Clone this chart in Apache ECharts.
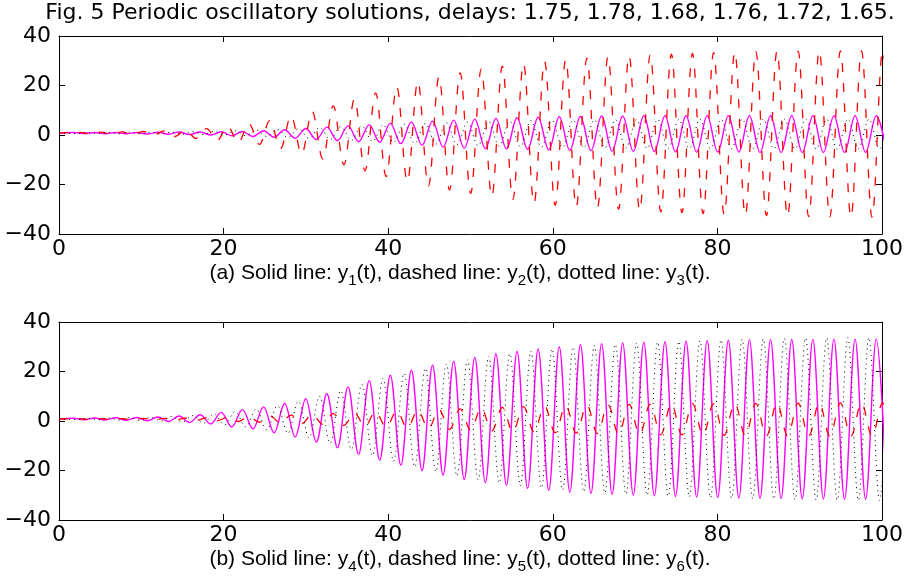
<!DOCTYPE html>
<html><head><meta charset="utf-8">
<script src="https://cdn.jsdelivr.net/npm/echarts@6/dist/echarts.min.js"></script>
<style>html,body{margin:0;padding:0;background:#fff}#c{width:909px;height:581px}</style>
</head><body><div id="c"></div>
<script>
// ---- tick labels ----
const xTicks = [0, 20, 40, 60, 80, 100];
const yTicks = [-40, -20, 0, 20, 40];

// ---- extremum times ----
const tMag = [0,
 1.75, 3.03, 4.32, 5.60, 6.88, 8.17, 9.45, 10.73, 12.02, 13.30,
 14.59, 15.87, 17.15, 18.44, 19.72, 21.00, 22.29, 23.57, 24.85, 26.14,
 27.42, 28.70, 29.99, 31.27, 32.55, 33.84, 35.12, 36.40, 37.69, 38.97,
 40.26, 41.54, 42.82, 44.11, 45.39, 46.67, 47.96, 49.24, 50.52, 51.81,
 53.09, 54.37, 55.66, 56.94, 58.22, 59.51, 60.79, 62.07, 63.36, 64.64,
 65.93, 67.21, 68.49, 69.78, 71.06, 72.34, 73.63, 74.91, 76.19, 77.48,
 78.76, 80.04, 81.33, 82.61, 83.89, 85.18, 86.46, 87.74, 89.03, 90.31,
 91.60, 92.88, 94.16, 95.45, 96.73, 98.01, 99.30, 100.58];
const tRed = [0,
 2.53, 3.81, 5.10, 6.38, 7.66, 8.95, 10.23, 11.51, 12.80, 14.08,
 15.37, 16.65, 17.93, 19.22, 20.50, 21.78, 23.07, 24.35, 25.63, 26.92,
 28.20, 29.48, 30.77, 32.05, 33.33, 34.62, 35.90, 37.18, 38.47, 39.75,
 41.04, 42.32, 43.60, 44.89, 46.17, 47.45, 48.74, 50.02, 51.30, 52.59,
 53.87, 55.15, 56.44, 57.72, 59.00, 60.29, 61.57, 62.85, 64.14, 65.42,
 66.71, 67.99, 69.27, 70.56, 71.84, 73.12, 74.41, 75.69, 76.97, 78.26,
 79.54, 80.82, 82.11, 83.39, 84.67, 85.96, 87.24, 88.52, 89.81, 91.09,
 92.38, 93.66, 94.94, 96.23, 97.51, 98.79, 100.08, 101.36];
const tDot = [0,
 2.15, 3.43, 4.72, 6.00, 7.28, 8.57, 9.85, 11.13, 12.42, 13.70,
 14.99, 16.27, 17.55, 18.84, 20.12, 21.40, 22.69, 23.97, 25.25, 26.54,
 27.82, 29.10, 30.39, 31.67, 32.95, 34.24, 35.52, 36.80, 38.09, 39.37,
 40.66, 41.94, 43.22, 44.51, 45.79, 47.07, 48.36, 49.64, 50.92, 52.21,
 53.49, 54.77, 56.06, 57.34, 58.62, 59.91, 61.19, 62.47, 63.76, 65.04,
 66.33, 67.61, 68.89, 70.18, 71.46, 72.74, 74.03, 75.31, 76.59, 77.88,
 79.16, 80.44, 81.73, 83.01, 84.29, 85.58, 86.86, 88.14, 89.43, 90.71,
 92.00, 93.28, 94.56, 95.85, 97.13, 98.41, 99.70, 100.98];

// ---- panel (a) values ----
const y1 = [0.8,
 1.0, 0.6, 1.0, 0.5, 1.0, 0.5, 1.0, 0.4, 1.1, 0.3,
 1.2, 0.2, 1.2, 0.0, 1.3, -0.3, 1.4, -0.6, 1.7, -0.9,
 2.1, -1.3, 2.6, -1.8, 3.2, -2.3, 3.7, -2.7, 4.1, -2.9,
 4.7, -3.5, 5.3, -4.2, 5.6, -4.9, 6.0, -5.3, 6.4, -5.5,
 6.7, -5.6, 7.0, -5.8, 7.2, -6.0, 7.4, -6.2, 7.5, -6.3,
 7.7, -6.5, 7.7, -6.6, 7.8, -6.7, 7.8, -6.8, 7.8, -6.9,
 7.8, -6.9, 7.8, -6.9, 7.8, -7.0, 7.8, -7.0, 7.8, -7.0,
 7.8, -7.0, 7.8, -7.0, 7.8, -7.0, 7.8, -7.0];
const y2 = [0.8,
 1.1, 0.5, 1.2, 0.4, 1.3, 0.2, 1.5, 0.0, 1.7, -0.6,
 2.0, -1.4, 2.6, -2.2, 3.5, -3.0, 4.6, -3.8, 5.9, -5.5,
 7.8, -7.6, 9.5, -9.7, 11.8, -12.0, 14.5, -14.5, 17.0, -16.8,
 19.5, -18.8, 21.6, -20.6, 23.5, -22.2, 25.1, -23.6, 26.6, -24.8,
 27.8, -26.0, 28.8, -27.5, 29.7, -28.4, 30.4, -29.0, 31.1, -29.5,
 31.6, -30.0, 32.0, -30.5, 32.4, -31.0, 32.7, -31.4, 33.0, -31.8,
 33.3, -32.1, 33.5, -32.4, 33.7, -32.6, 33.8, -32.8, 33.9, -33.0,
 34.0, -33.1, 34.0, -33.2, 34.0, -33.2, 34.0, -33.2];
const y3 = [0.8,
 0.6, 1.0, 0.6, 1.0, 0.5, 1.1, 0.5, 1.1, 0.4, 1.2,
 0.3, 1.3, 0.2, 1.5, 0.0, 1.7, -0.3, 2.0, -0.6, 2.3,
 -1.0, 2.6, -1.4, 3.0, -1.8, 3.4, -2.2, 3.7, -2.6, 4.1,
 -3.0, 4.4, -3.4, 4.7, -3.7, 5.0, -4.0, 5.2, -4.3, 5.4,
 -4.5, 5.6, -4.7, 5.8, -4.9, 5.9, -5.0, 6.0, -5.1, 6.1,
 -5.2, 6.2, -5.3, 6.2, -5.4, 6.3, -5.4, 6.3, -5.5, 6.4,
 -5.5, 6.4, -5.5, 6.4, -5.6, 6.4, -5.6, 6.4, -5.6, 6.4,
 -5.6, 6.4, -5.6, 6.4, -5.6, 6.4, -5.6, 6.4];

// ---- panel (b) values ----
const y4 = [0.8,
 1.1, 0.5, 1.2, 0.4, 1.3, 0.3, 1.4, 0.1, 1.6, -0.2,
 2.0, -0.6, 2.5, -1.2, 3.5, -2.4, 4.6, -3.2, 5.7, -4.8,
 7.1, -6.4, 9.0, -8.5, 11.0, -10.8, 13.8, -13.5, 16.3, -15.8,
 18.5, -17.9, 20.5, -20.0, 22.5, -21.8, 24.1, -23.6, 25.7, -24.9,
 27.1, -26.0, 28.1, -27.2, 29.1, -28.0, 29.9, -28.7, 30.8, -29.2,
 31.2, -29.6, 31.5, -29.9, 31.8, -30.2, 32.0, -30.5, 32.2, -30.7,
 32.4, -30.9, 32.6, -31.1, 32.7, -31.2, 32.8, -31.3, 32.9, -31.4,
 33.0, -31.5, 33.1, -31.6, 33.1, -31.6, 33.1, -31.6];
const y5 = [0.8,
 1.0, 0.6, 1.0, 0.6, 1.0, 0.5, 1.1, 0.5, 1.1, 0.4,
 1.2, 0.3, 1.3, 0.1, 1.5, -0.2, 1.8, -0.5, 2.1, -0.8,
 2.4, -1.1, 2.7, -1.4, 3.0, -1.8, 3.3, -2.1, 3.7, -2.5,
 4.0, -2.8, 4.3, -3.1, 4.6, -3.4, 4.9, -3.7, 5.2, -4.0,
 5.5, -4.3, 5.8, -4.5, 6.0, -4.7, 6.2, -4.9, 6.4, -5.1,
 6.6, -5.3, 6.7, -5.4, 6.8, -5.5, 6.9, -5.6, 7.0, -5.7,
 7.0, -5.8, 7.1, -5.9, 7.1, -6.0, 7.2, -6.0, 7.2, -6.1,
 7.2, -6.1, 7.3, -6.1, 7.3, -6.1, 7.3, -6.1];
const y6 = [0.8,
 0.6, 1.1, 0.5, 1.2, 0.4, 1.3, 0.2, 1.5, 0.0, 1.8,
 -0.4, 2.2, -0.9, 2.9, -1.6, 3.8, -2.4, 4.8, -3.6, 6.2,
 -5.0, 8.0, -6.8, 10.0, -9.0, 12.3, -11.5, 14.8, -14.0, 17.2,
 -16.3, 19.3, -18.5, 21.3, -20.5, 23.1, -22.2, 24.7, -23.7, 26.1,
 -25.0, 27.2, -26.1, 28.2, -27.1, 29.1, -27.9, 29.9, -28.6, 30.5,
 -29.1, 31.0, -29.6, 31.5, -30.0, 31.9, -30.4, 32.2, -30.7, 32.5,
 -31.0, 32.8, -31.2, 33.0, -31.4, 33.2, -31.6, 33.4, -31.8, 33.5,
 -31.9, 33.6, -32.0, 33.7, -32.1, 33.7, -32.1, 33.7];

const titleText = 'Fig. 5 Periodic oscillatory solutions, delays: 1.75, 1.78, 1.68, 1.76, 1.72, 1.65.';
const capA = '(a) Solid line: y{s|1}(t), dashed line: y{s|2}(t), dotted line: y{s|3}(t).';
const capB = '(b) Solid line: y{s|4}(t), dashed line: y{s|5}(t), dotted line: y{s|6}(t).';

function pts(t, y) {
  if (t.length !== y.length) throw new Error('length mismatch ' + t.length + ' vs ' + y.length);
  return t.map((v, i) => [v, y[i]]);
}
const minus = v => String(v).replace('-', '\u2212');

function mkX(g, pos, lab) {
  return {
    type: 'value', gridIndex: g, position: pos,
    min: xTicks[0], max: xTicks[xTicks.length - 1], interval: xTicks[1] - xTicks[0],
    axisLine: { show: true, onZero: false, lineStyle: { color: '#000', width: 1 } },
    axisTick: { show: true, inside: true, length: 6, lineStyle: { color: '#000', width: 1 } },
    axisLabel: { show: lab, color: '#000', fontFamily: 'DejaVu Sans', fontSize: 22, margin: 4,
      showMinLabel: true, showMaxLabel: true, formatter: minus },
    splitLine: { show: false }
  };
}
function mkY(g, pos, lab) {
  return {
    type: 'value', gridIndex: g, position: pos,
    min: yTicks[0], max: yTicks[yTicks.length - 1], interval: yTicks[1] - yTicks[0],
    axisLine: { show: true, onZero: false, lineStyle: { color: '#000', width: 1 } },
    axisTick: { show: true, inside: true, length: 6, lineStyle: { color: '#000', width: 1 } },
    axisLabel: { show: lab, color: '#000', fontFamily: 'DejaVu Sans', fontSize: 22, margin: 8,
      showMinLabel: true, showMaxLabel: true, formatter: minus },
    splitLine: { show: false }
  };
}
function line(t, y, p, color, type, width) {
  return {
    type: 'line', xAxisIndex: 2 * p, yAxisIndex: 2 * p, data: pts(t, y),
    showSymbol: false, symbol: 'none', smooth: 0.36, smoothMonotone: 'x',
    clip: true, silent: true, animation: false,
    lineStyle: { color: color, width: width, type: type }
  };
}

const chart = echarts.init(document.getElementById('c'), null, { renderer: 'canvas' });
const subRich = { s: { fontSize: 15, fontFamily: 'Liberation Sans', lineHeight: 16, padding: [16, 0, 0, 0] } };
chart.setOption({
  animation: false,
  backgroundColor: '#fff',
  grid: [
    { left: 59, right: 27, top: 36, height: 198 },
    { left: 59, right: 27, top: 322, height: 198 }
  ],
  xAxis: [mkX(0, 'bottom', true), mkX(0, 'top', false), mkX(1, 'bottom', true), mkX(1, 'top', false)],
  yAxis: [mkY(0, 'left', true), mkY(0, 'right', false), mkY(1, 'left', true), mkY(1, 'right', false)],
  series: [
    line(tMag, y1, 0, '#ff00ff', 'solid', 1.4),
    line(tRed, y2, 0, '#ff0000', [9, 11], 1.3),
    line(tDot, y3, 0, '#000000', [1, 4], 1),
    line(tMag, y4, 1, '#ff00ff', 'solid', 1.4),
    line(tRed, y5, 1, '#ff0000', [9, 11], 1.3),
    line(tDot, y6, 1, '#000000', [1, 4], 1)
  ],
  graphic: [
    { type: 'text', x: 470, y: 13, silent: true,
      style: { text: titleText, fill: '#000', fontSize: 22, fontFamily: 'DejaVu Sans',
        align: 'center', verticalAlign: 'middle', textAlign: 'center', textVerticalAlign: 'middle' } },
    { type: 'text', x: 460, y: 273, silent: true,
      style: { text: capA, fill: '#000', fontSize: 21, fontFamily: 'Liberation Sans', lineHeight: 32, rich: subRich,
        align: 'center', verticalAlign: 'middle', textAlign: 'center', textVerticalAlign: 'middle' } },
    { type: 'text', x: 460, y: 559, silent: true,
      style: { text: capB, fill: '#000', fontSize: 21, fontFamily: 'Liberation Sans', lineHeight: 32, rich: subRich,
        align: 'center', verticalAlign: 'middle', textAlign: 'center', textVerticalAlign: 'middle' } }
  ]
});
</script>
</body></html>
